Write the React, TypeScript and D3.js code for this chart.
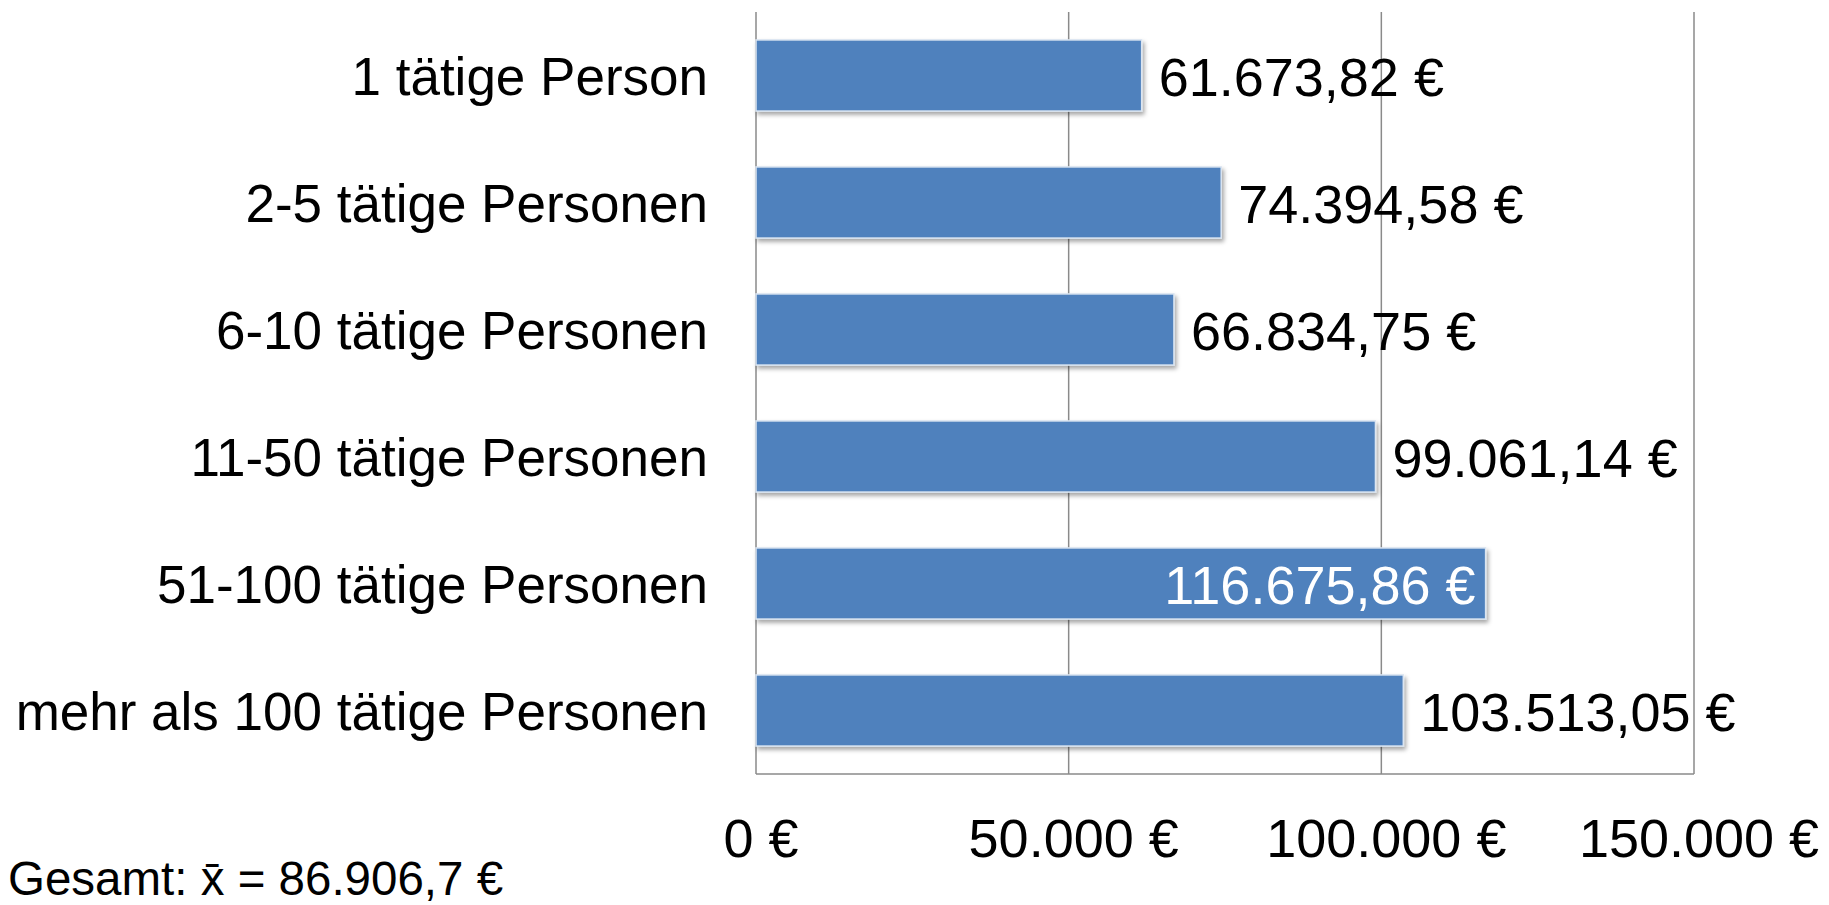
import React from "react";
import * as d3 from "d3";

const categories = [
  "1 tätige Person",
  "2-5 tätige Personen",
  "6-10 tätige Personen",
  "11-50 tätige Personen",
  "51-100 tätige Personen",
  "mehr als 100 tätige Personen",
];
const values = [61673.82, 74394.58, 66834.75, 99061.14, 116675.86, 103513.05];
const valueLabels = [
  "61.673,82 €",
  "74.394,58 €",
  "66.834,75 €",
  "99.061,14 €",
  "116.675,86 €",
  "103.513,05 €",
];
const insideLabel = [false, false, false, false, true, false];
const ticks = [0, 50000, 100000, 150000];
const tickLabels = ["0 €", "50.000 €", "100.000 €", "150.000 €"];
const footnote = "Gesamt: x\u0304 = 86.906,7 €";

const W = 1829;
const H = 905;
const FONT = "'Liberation Sans', Arial, sans-serif";

export default function App() {
  const x = d3.scaleLinear().domain([0, 150000]).range([756, 1694]);
  const y = d3
    .scaleBand<string>()
    .domain(categories)
    .range([12, 774])
    .paddingInner(0.44)
    .paddingOuter(0.22);
  const top = 12;
  const bottom = 774;
  const grid = "#8a8a8a";

  return (
    <svg
      width={W}
      height={H}
      style={{ position: "absolute", left: 0, top: 0, background: "#fff" }}
      fontFamily={FONT}
    >
      <defs>
        <filter id="sh" x="-5%" y="-20%" width="110%" height="150%">
          <feDropShadow dx="2" dy="3" stdDeviation="2" floodColor="#000" floodOpacity="0.35" />
        </filter>
      </defs>
      {ticks.map((t, i) => (
        <line
          key={"g" + i}
          x1={x(t)}
          x2={x(t)}
          y1={top}
          y2={bottom}
          stroke={grid}
          strokeWidth={1.5}
        />
      ))}
      <line x1={x(0)} x2={x(150000)} y1={bottom} y2={bottom} stroke={grid} strokeWidth={1.5} />
      {categories.map((c, i) => {
        const by = y(c)!;
        const bw = y.bandwidth();
        const xe = x(values[i]);
        const cy = by + bw / 2;
        return (
          <g key={c}>
            <rect
              x={x(0)}
              y={by}
              width={xe - x(0)}
              height={bw}
              fill="#4f81bd"
              stroke="#dbe5f1"
              strokeWidth={1.5}
              filter="url(#sh)"
            />
            <text x={708} y={cy + 19.5} textAnchor="end" fontSize={53} fill="#000">
              {c}
            </text>
            <text
              x={insideLabel[i] ? xe - 10 : xe + 17}
              y={cy + 20}
              textAnchor={insideLabel[i] ? "end" : "start"}
              fontSize={54}
              fill={insideLabel[i] ? "#fff" : "#000"}
            >
              {valueLabels[i]}
            </text>
          </g>
        );
      })}
      {ticks.map((t, i) => (
        <text key={"t" + i} x={x(t) + 5} y={857} textAnchor="middle" fontSize={54} fill="#000">
          {tickLabels[i]}
        </text>
      ))}
      <text x={8} y={895} fontSize={47.5} fill="#000">
        {footnote}
      </text>
    </svg>
  );
}
